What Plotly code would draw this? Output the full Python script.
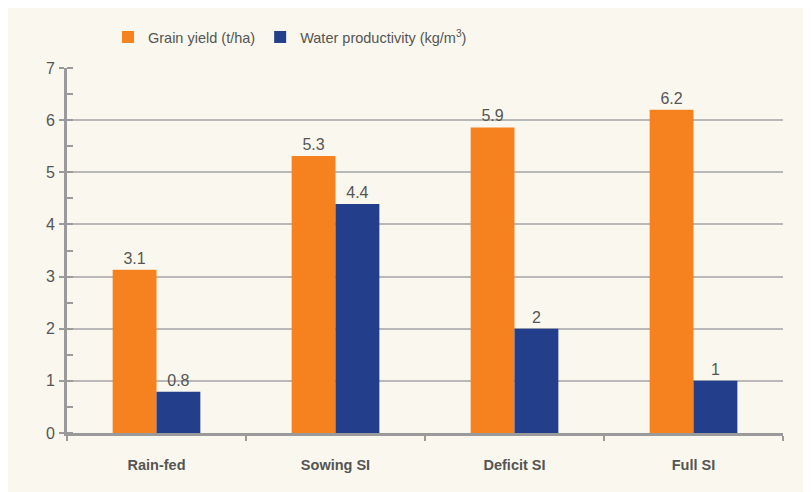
import plotly.graph_objects as go

categories = ["Rain-fed", "Sowing SI", "Deficit SI", "Full SI"]
grain_yield = [3.13, 5.31, 5.86, 6.2]
grain_labels = ["3.1", "5.3", "5.9", "6.2"]
water_prod = [0.79, 4.39, 2.0, 1.0]
water_labels = ["0.8", "4.4", "2", "1"]
y_ticks = [0, 1, 2, 3, 4, 5, 6, 7]

FONT = "Liberation Sans, Arial, sans-serif"
TXT = "#555555"
AX = "#9a9a9a"

fig = go.Figure()
fig.add_trace(go.Bar(
    x=categories, y=grain_yield, name="Grain yield (t/ha)",
    marker=dict(color="#F5821F", line=dict(width=0)),
    text=grain_labels, textposition="outside", cliponaxis=False,
    textfont=dict(size=16, color=TXT, family=FONT),
))
fig.add_trace(go.Bar(
    x=categories, y=water_prod, name="Water productivity (kg/m<sup>3</sup>)",
    marker=dict(color="#233F8C", line=dict(width=0)),
    text=water_labels, textposition="outside", cliponaxis=False,
    textfont=dict(size=16, color=TXT, family=FONT),
))

fig.update_layout(
    width=803, height=484,
    paper_bgcolor="#FAF8EE", plot_bgcolor="#FAF8EE",
    margin=dict(l=59, r=28, t=60, b=59, autoexpand=False),
    barmode="group", bargap=0.51, bargroupgap=0,
    font=dict(family=FONT, color=TXT, size=16),
    showlegend=True,
    legend=dict(orientation="h", xref="container", x=0.1245, xanchor="left",
                yref="container", y=0.94, yanchor="middle",
                font=dict(size=14.5, color=TXT, family=FONT), bgcolor="rgba(0,0,0,0)",
                traceorder="normal"),
    xaxis=dict(
        type="category", tickson="boundaries", ticks="outside", ticklen=5, tickwidth=2,
        tickcolor=AX, showline=True, linecolor=AX, linewidth=3, showgrid=False,
        tickfont=dict(size=14.5, color=TXT, family=FONT, weight="bold"),
        ticklabelstandoff=17, automargin=False,
    ),
    yaxis=dict(
        range=[0, 7], tickvals=y_ticks, ticks="outside", ticklen=5, tickwidth=2, tickcolor=AX,
        showline=True, linecolor=AX, linewidth=3, showgrid=True, gridcolor="#b8b8b8",
        gridwidth=1.5, zeroline=False, tickfont=dict(size=16, color=TXT, family=FONT),
        ticklabelstandoff=1, automargin=False,
        minor=dict(dtick=0.5, tick0=0, ticks="inside", ticklen=6, tickwidth=2, tickcolor=AX, showgrid=False),
    ),
)

fig.write_html("out.html")
